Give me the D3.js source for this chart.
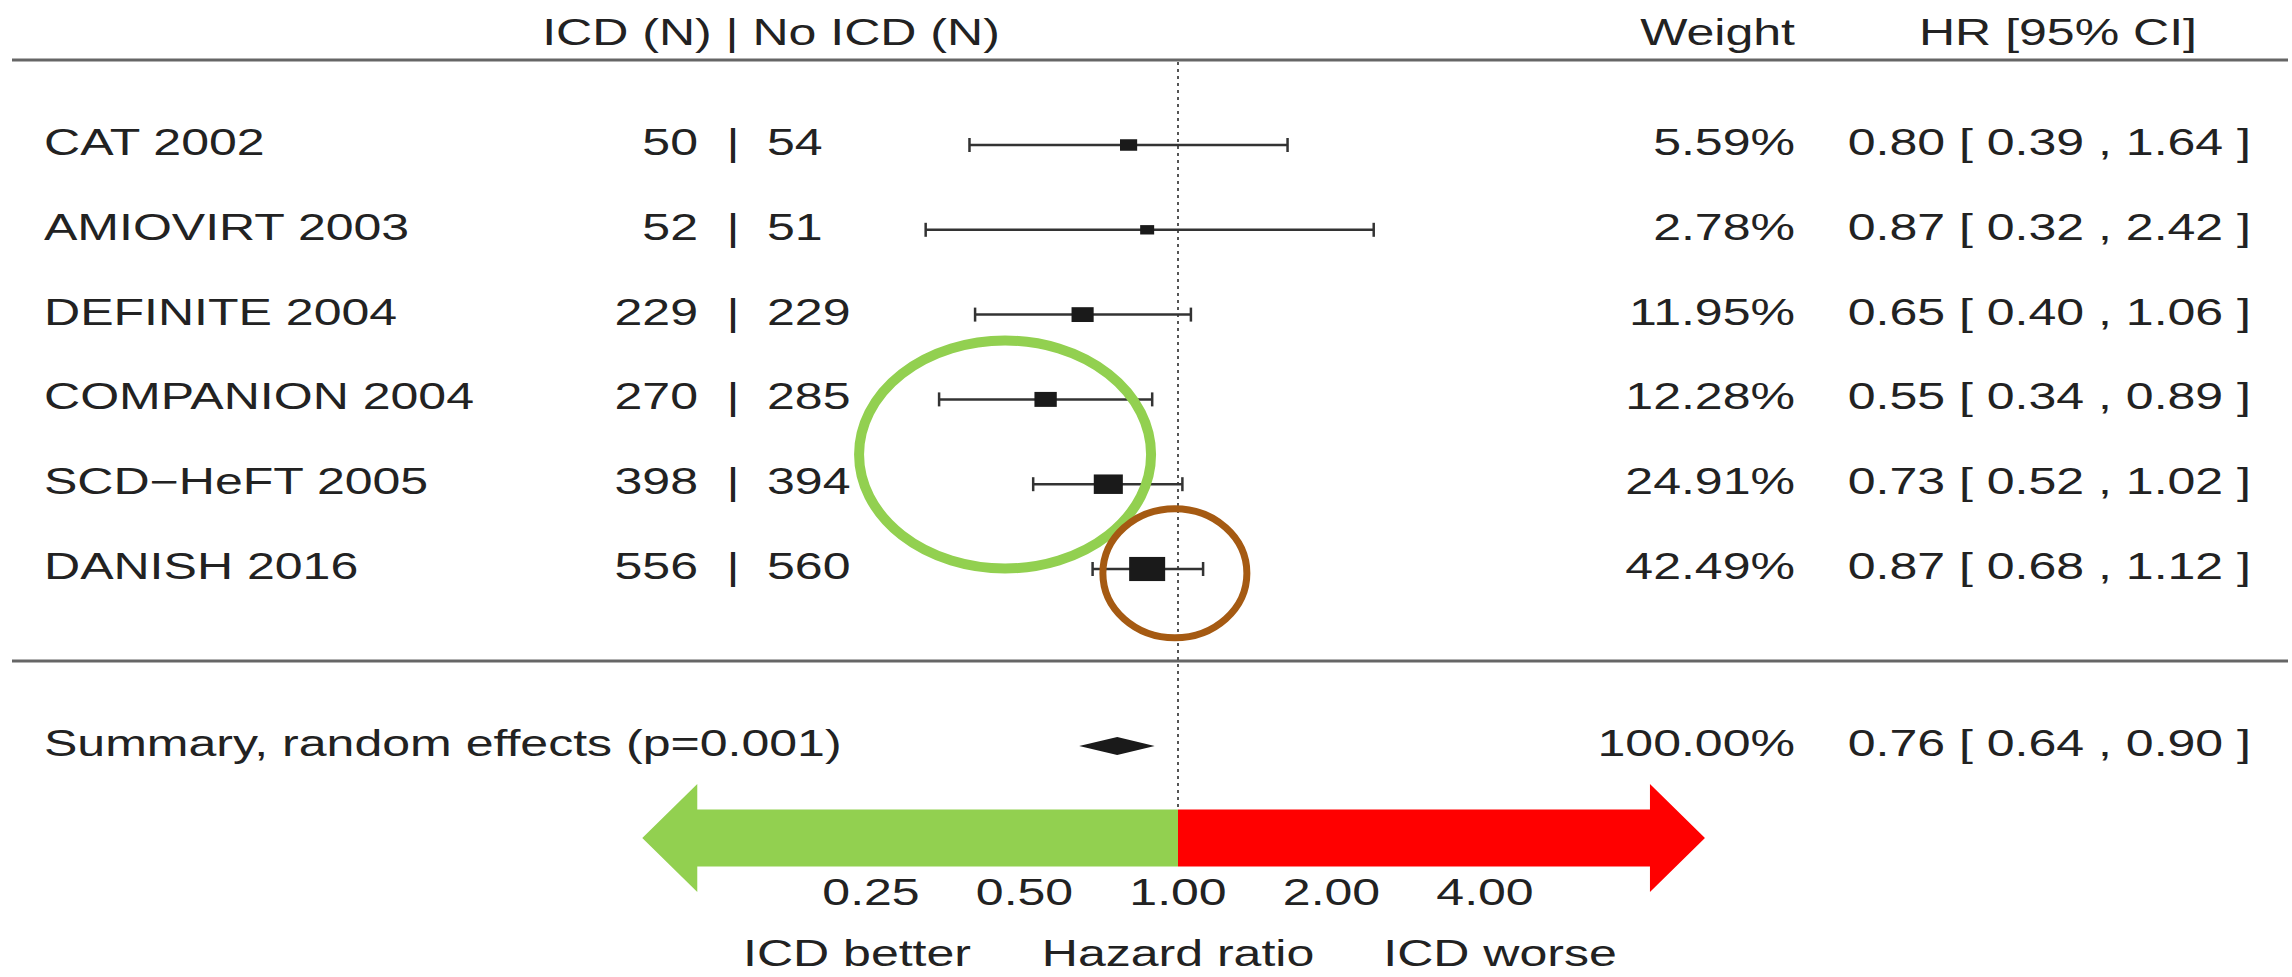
<!DOCTYPE html>
<html>
<head>
<meta charset="utf-8">
<script src="https://cdn.jsdelivr.net/npm/d3@7"></script>
<style>
  body { margin: 0; background: #fff; }
  text { font-family: "Liberation Sans", Arial, sans-serif; fill: #222; }
</style>
</head>
<body>
<div id="chart"></div>
<script>
// study rows
const studies = ['CAT 2002', 'AMIOVIRT 2003', 'DEFINITE 2004', 'COMPANION 2004', 'SCD\u2212HeFT 2005', 'DANISH 2016']
const nIcd = [50, 52, 229, 270, 398, 556]
const nNoIcd = [54, 51, 229, 285, 394, 560]
const hr = [0.80, 0.87, 0.65, 0.55, 0.73, 0.87]
const ciLow = [0.39, 0.32, 0.40, 0.34, 0.52, 0.68]
const ciHigh = [1.64, 2.42, 1.06, 0.89, 1.02, 1.12]
const weights = [5.59, 2.78, 11.95, 12.28, 24.91, 42.49]

// summary row
const summaryLabel = 'Summary, random effects (p=0.001)'
const summary = { hr: 0.76, lo: 0.64, hi: 0.90, weight: 100 }

// axis
const ticks = [0.25, 0.5, 1, 2, 4]
const arrowEnds = [0.089, 10.8]
const axisLabels = ['ICD better', 'Hazard ratio', 'ICD worse']

// hand-drawn highlights (hr, row)
const highlights = [
  { hr: 0.458, row: 3.65, color: '#92d050' },
  { hr: 0.986, row: 5.05, color: '#a55a12' }
]

const width = 2292, height = 977
const fs = 36, sx = 1.39

const svg = d3.select('#chart').append('svg')
  .attr('width', width)
  .attr('height', height)

const x = d3.scaleLog().base(2).domain([0.25, 4]).range([871, 1485])
const y = d3.scaleLinear().domain([0, 5]).range([145, 569])
const boxW = d3.scaleSqrt().domain([d3.min(weights), d3.max(weights)]).range([14, 36])
const f2 = d3.format('.2f')

const summaryY = 746
const arrowY = 838

// put a stretched label (the original is wider than plain Arial)
const label = (g, px, py, txt, anchor) => {
  g.append('text')
    .attr('transform', `translate(${px},${py}) scale(${sx},1)`)
    .attr('text-anchor', anchor || 'start')
    .attr('font-size', fs)
    .text(txt)
}

// rules
svg.selectAll('line.rule')
  .data([60, 661])
  .enter()
  .append('line')
  .attr('class', 'rule')
  .attr('x1', 12).attr('x2', 2288)
  .attr('y1', d => d).attr('y2', d => d)
  .attr('stroke', '#666')
  .attr('stroke-width', 3)

// reference line at HR = 1
svg.append('line')
  .attr('x1', x(1)).attr('x2', x(1))
  .attr('y1', 62).attr('y2', arrowY - 28)
  .attr('stroke', '#555')
  .attr('stroke-width', 2)
  .attr('stroke-dasharray', '3,4')

// header
const head = svg.append('g')
label(head, 771, 45, 'ICD (N) | No ICD (N)', 'middle')
label(head, 1795, 45, 'Weight', 'end')
label(head, 2197, 45, 'HR [95% CI]', 'end')

// study rows
const rows = svg.selectAll('g.row')
  .data(studies)
  .enter()
  .append('g')
  .attr('class', 'row')

rows.each(function (d, i) {
  const g = d3.select(this)
  const cy = y(i)
  const base = cy + 10
  label(g, 44, base, d)
  label(g, 698, base, nIcd[i], 'end')
  label(g, 733, base, '|', 'middle')
  label(g, 767, base, nNoIcd[i])
  label(g, 1795, base, f2(weights[i]) + '%', 'end')
  label(g, 2251, base, `${f2(hr[i])} [ ${f2(ciLow[i])} , ${f2(ciHigh[i])} ]`, 'end')

  g.append('line')
    .attr('x1', x(ciLow[i])).attr('x2', x(ciHigh[i]))
    .attr('y1', cy).attr('y2', cy)
    .attr('stroke', '#333').attr('stroke-width', 2.5)
  g.selectAll('line.cap')
    .data([ciLow[i], ciHigh[i]])
    .enter()
    .append('line')
    .attr('class', 'cap')
    .attr('x1', v => x(v)).attr('x2', v => x(v))
    .attr('y1', cy - 7).attr('y2', cy + 7)
    .attr('stroke', '#333').attr('stroke-width', 2.5)

  const w = boxW(weights[i]), h = w * 0.67
  g.append('rect')
    .attr('x', x(hr[i]) - w / 2)
    .attr('y', cy - h / 2)
    .attr('width', w)
    .attr('height', h)
    .attr('fill', '#1a1a1a')
})

// summary
const sg = svg.append('g')
label(sg, 44, summaryY + 10, summaryLabel)
label(sg, 1795, summaryY + 10, f2(summary.weight) + '%', 'end')
label(sg, 2251, summaryY + 10, `${f2(summary.hr)} [ ${f2(summary.lo)} , ${f2(summary.hi)} ]`, 'end')
sg.append('path')
  .attr('d', d3.line()([
    [x(summary.lo), summaryY],
    [x(summary.hr), summaryY - 9],
    [x(summary.hi), summaryY],
    [x(summary.hr), summaryY + 9]
  ]) + 'Z')
  .attr('fill', '#1a1a1a')

// direction arrows
const shaft = 28.5, headH = 54, headL = 55
const leftTip = x(arrowEnds[0]), rightTip = x(arrowEnds[1])
svg.append('path')
  .attr('d', d3.line()([
    [leftTip, arrowY],
    [leftTip + headL, arrowY - headH],
    [leftTip + headL, arrowY - shaft],
    [x(1), arrowY - shaft],
    [x(1), arrowY + shaft],
    [leftTip + headL, arrowY + shaft],
    [leftTip + headL, arrowY + headH]
  ]) + 'Z')
  .attr('fill', '#92d050')
svg.append('path')
  .attr('d', d3.line()([
    [rightTip, arrowY],
    [rightTip - headL, arrowY - headH],
    [rightTip - headL, arrowY - shaft],
    [x(1), arrowY - shaft],
    [x(1), arrowY + shaft],
    [rightTip - headL, arrowY + shaft],
    [rightTip - headL, arrowY + headH]
  ]) + 'Z')
  .attr('fill', '#ff0000')

// tick labels
const tg = svg.append('g')
ticks.forEach(t => label(tg, x(t), 905, f2(t), 'middle'))

// bottom labels
const bg = svg.append('g')
label(bg, x(0.25) - 14, 966, axisLabels[0], 'middle')
label(bg, x(1), 966, axisLabels[1], 'middle')
label(bg, x(4) + 15, 966, axisLabels[2], 'middle')

// highlight rings
svg.append('ellipse')
  .attr('cx', x(highlights[0].hr)).attr('cy', y(highlights[0].row))
  .attr('rx', 146).attr('ry', 114)
  .attr('fill', 'none')
  .attr('stroke', highlights[0].color)
  .attr('stroke-width', 10)
svg.append('ellipse')
  .attr('cx', x(highlights[1].hr)).attr('cy', y(highlights[1].row))
  .attr('rx', 72).attr('ry', 64.5)
  .attr('fill', 'none')
  .attr('stroke', highlights[1].color)
  .attr('stroke-width', 7)
</script>
</body>
</html>
